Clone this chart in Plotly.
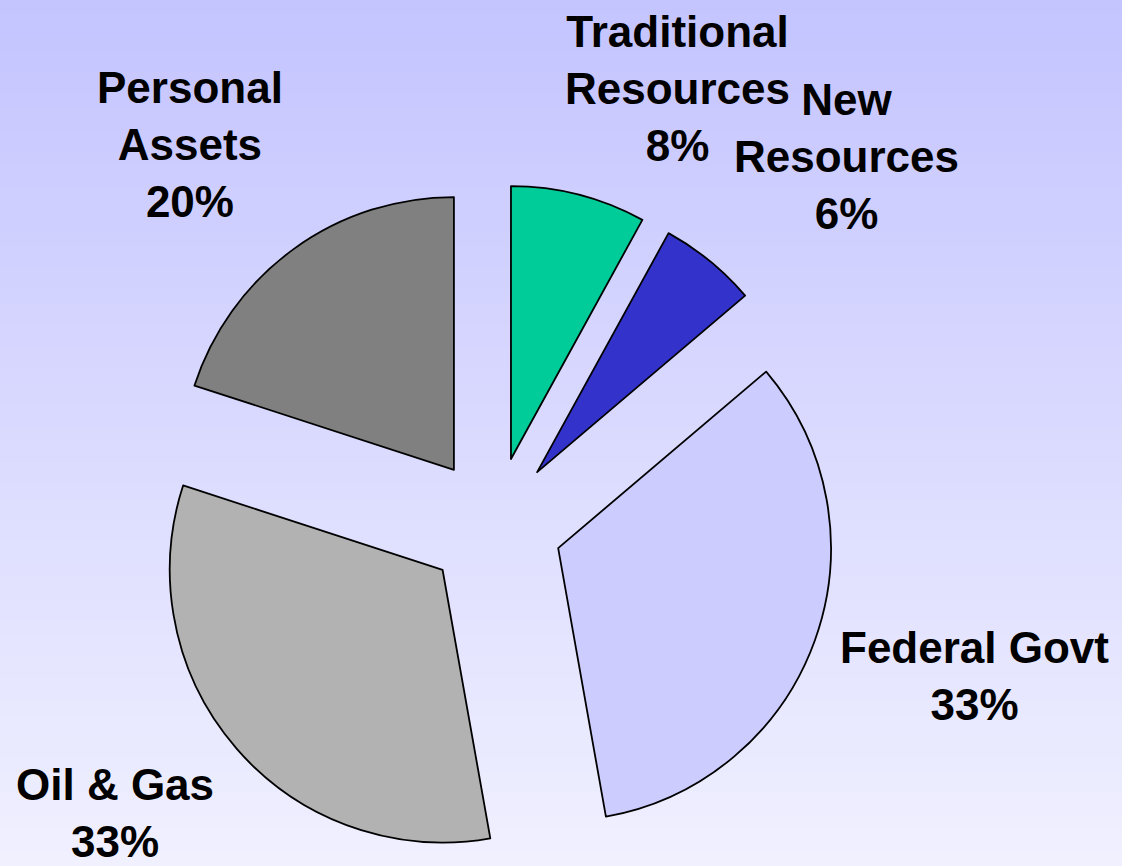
import plotly.graph_objects as go

# data
labels = ['Traditional Resources', 'New Resources', 'Federal Govt', 'Oil & Gas', 'Personal Assets']
values = [8, 5.8, 33.4, 32.8, 20]
label_lines = [['Traditional', 'Resources'], ['New', 'Resources'], ['Federal Govt'],
               ['Oil & Gas'], ['Personal', 'Assets']]
colors = ['#00CC99', '#3333CC', '#CCCCFF', '#B2B2B2', '#808080']

W, H = 1122, 866

# where each label block sits (pixel centres, from top-left)
label_pos = [(677, 88), (846, 156), (974, 676), (115, 813), (190, 144)]

total = sum(values)

fig = go.Figure(go.Pie(
    labels=labels, values=values, sort=False, direction='clockwise', rotation=0,
    pull=[0.25] * len(values),
    marker=dict(colors=colors, line=dict(color='black', width=1.8)),
    textinfo='none', hoverinfo='label+percent', showlegend=False,
    domain=dict(x=[153 / W, 835 / W], y=[0, 682 / H]),
))

# gradient background from bands
n = 120
top, bot = (196, 196, 255), (240, 240, 255)
shapes = []
for i in range(n):
    t = i / (n - 1)
    c = tuple(round(top[k] + (bot[k] - top[k]) * t) for k in range(3))
    shapes.append(dict(type='rect', xref='paper', yref='paper', layer='below',
                       x0=0, x1=1, y0=1 - (i + 1) / n - 0.001, y1=1 - i / n,
                       fillcolor='rgb(%d,%d,%d)' % c, line=dict(width=0)))

annotations = []
for lines, v, (px, py) in zip(label_lines, values, label_pos):
    txt = '<br>'.join(lines + ['%d%%' % round(100 * v / total)])
    annotations.append(dict(x=px / W, y=1 - py / H, xref='paper', yref='paper',
                            text=txt, showarrow=False, xanchor='center', yanchor='middle',
                            font=dict(family='Liberation Sans, Arial', size=44,
                                      color='black', weight='bold')))

fig.update_layout(
    width=W, height=H, margin=dict(l=0, r=0, t=0, b=0),
    paper_bgcolor='#E0E0FF', plot_bgcolor='rgba(0,0,0,0)',
    shapes=shapes, annotations=annotations,
    font=dict(family='Liberation Sans, Arial'),
)

fig.write_html('out.html', config={'displayModeBar': False},
               post_script="document.body.style.margin='0';document.body.style.overflow='hidden';")
